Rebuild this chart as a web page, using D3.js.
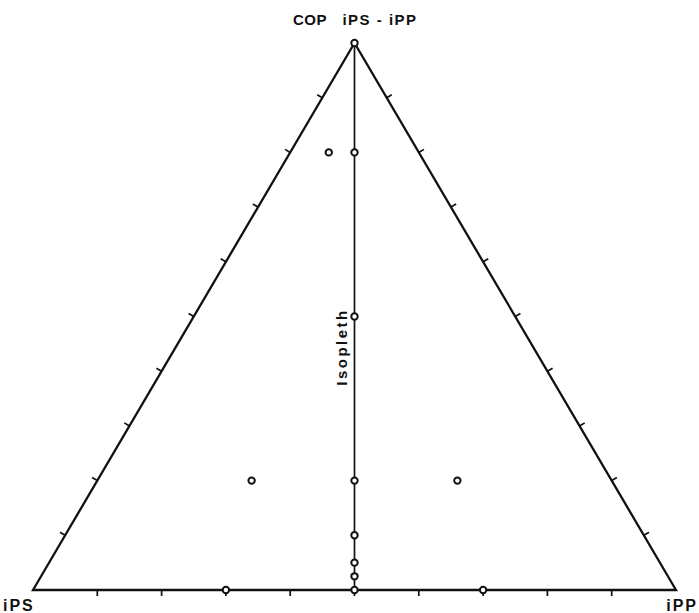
<!DOCTYPE html>
<html>
<head>
<meta charset="utf-8">
<script src="https://cdn.jsdelivr.net/npm/d3@7"></script>
<style>
  body { margin: 0; background: #fff; }
  text { font-family: "Liberation Sans", Arial, sans-serif; font-weight: bold; fill: #111; }
</style>
</head>
<body>
<div id="chart"></div>
<script>
// Ternary composition of the measured blends (fractions)
const cop = [1.0, 0.8, 0.8, 0.5, 0.2, 0.2, 0.2, 0.1, 0.05, 0.025, 0, 0, 0];
const ips = [0.0, 0.14, 0.1, 0.25, 0.56, 0.4, 0.24, 0.45, 0.475, 0.4875, 0.5, 0.7, 0.3];
const ipp = [0.0, 0.06, 0.1, 0.25, 0.24, 0.4, 0.56, 0.45, 0.475, 0.4875, 0.5, 0.3, 0.7];

const tickFractions = d3.range(1, 10).map((k) => k / 10);
const vertexLabels = ["iPS", "iPP"];
const topLabels = ["COP", "iPS - iPP"];
const isoplethLabel = "Isopleth";

const dimensions = { width: 699, height: 613 };

const svg = d3
  .select("#chart")
  .append("svg")
  .attr("width", dimensions.width)
  .attr("height", dimensions.height);

// x runs along the base (0 = iPS corner, 1 = iPP corner), y is the COP share
const xScale = d3.scaleLinear([0, 1], [33, 676]);
const yScale = d3.scaleLinear([0, 1], [590, 43]);

const px = (c, p) => xScale(p + c / 2);
const py = (c) => yScale(c);

// Triangle outline
const corners = [
  [px(0, 0), py(0)],
  [px(0, 1), py(0)],
  [px(1, 0), py(1)],
];
svg
  .append("path")
  .attr("d", d3.line()(corners) + "Z")
  .attr("fill", "none")
  .attr("stroke", "#111")
  .attr("stroke-width", 2.3)
  .attr("stroke-linejoin", "miter");

// Isopleth (iPS = iPP)
svg
  .append("line")
  .attr("x1", px(1, 0))
  .attr("y1", py(1))
  .attr("x2", px(0, 0.5))
  .attr("y2", py(0))
  .attr("stroke", "#111")
  .attr("stroke-width", 1.7);

// Ticks, pointing outwards
const tickLen = 6;
const leftDir = [-0.862, -0.507];
const rightDir = [0.862, -0.507];
const tickG = svg.append("g").attr("stroke", "#111").attr("stroke-width", 1.7);

tickG
  .selectAll(".tick-left")
  .data(tickFractions)
  .join("line")
  .attr("x1", (t) => px(t, 0))
  .attr("y1", (t) => py(t))
  .attr("x2", (t) => px(t, 0) + leftDir[0] * tickLen)
  .attr("y2", (t) => py(t) + leftDir[1] * tickLen);

tickG
  .selectAll(".tick-right")
  .data(tickFractions)
  .join("line")
  .attr("x1", (t) => px(t, 1 - t))
  .attr("y1", (t) => py(t))
  .attr("x2", (t) => px(t, 1 - t) + rightDir[0] * tickLen)
  .attr("y2", (t) => py(t) + rightDir[1] * tickLen);

tickG
  .selectAll(".tick-bottom")
  .data(tickFractions)
  .join("line")
  .attr("x1", (t) => px(0, t))
  .attr("y1", py(0))
  .attr("x2", (t) => px(0, t))
  .attr("y2", py(0) + tickLen);

// Data points
svg
  .append("g")
  .selectAll("circle")
  .data(d3.range(cop.length))
  .join("circle")
  .attr("cx", (i) => px(cop[i], ipp[i]))
  .attr("cy", (i) => py(cop[i]))
  .attr("r", 3.2)
  .attr("fill", "#fff")
  .attr("stroke", "#111")
  .attr("stroke-width", 2);

// Labels
svg
  .append("text")
  .attr("x", 310)
  .attr("y", 25)
  .attr("text-anchor", "middle")
  .style("font-size", "15px")
  .style("letter-spacing", "0.5px")
  .text(topLabels[0]);

svg
  .append("text")
  .attr("x", 380)
  .attr("y", 25)
  .attr("text-anchor", "middle")
  .style("font-size", "15px")
  .style("letter-spacing", "1.5px")
  .text(topLabels[1]);

svg
  .append("text")
  .attr("x", 3)
  .attr("y", 611)
  .style("font-size", "16px")
  .style("letter-spacing", "2px")
  .text(vertexLabels[0]);

svg
  .append("text")
  .attr("x", 698)
  .attr("y", 611)
  .attr("text-anchor", "end")
  .style("font-size", "16px")
  .style("letter-spacing", "2px")
  .text(vertexLabels[1]);

svg
  .append("text")
  .attr("transform", "translate(347,347) rotate(-90)")
  .attr("text-anchor", "middle")
  .style("font-size", "15px")
  .style("letter-spacing", "2.5px")
  .text(isoplethLabel);
</script>
</body>
</html>
